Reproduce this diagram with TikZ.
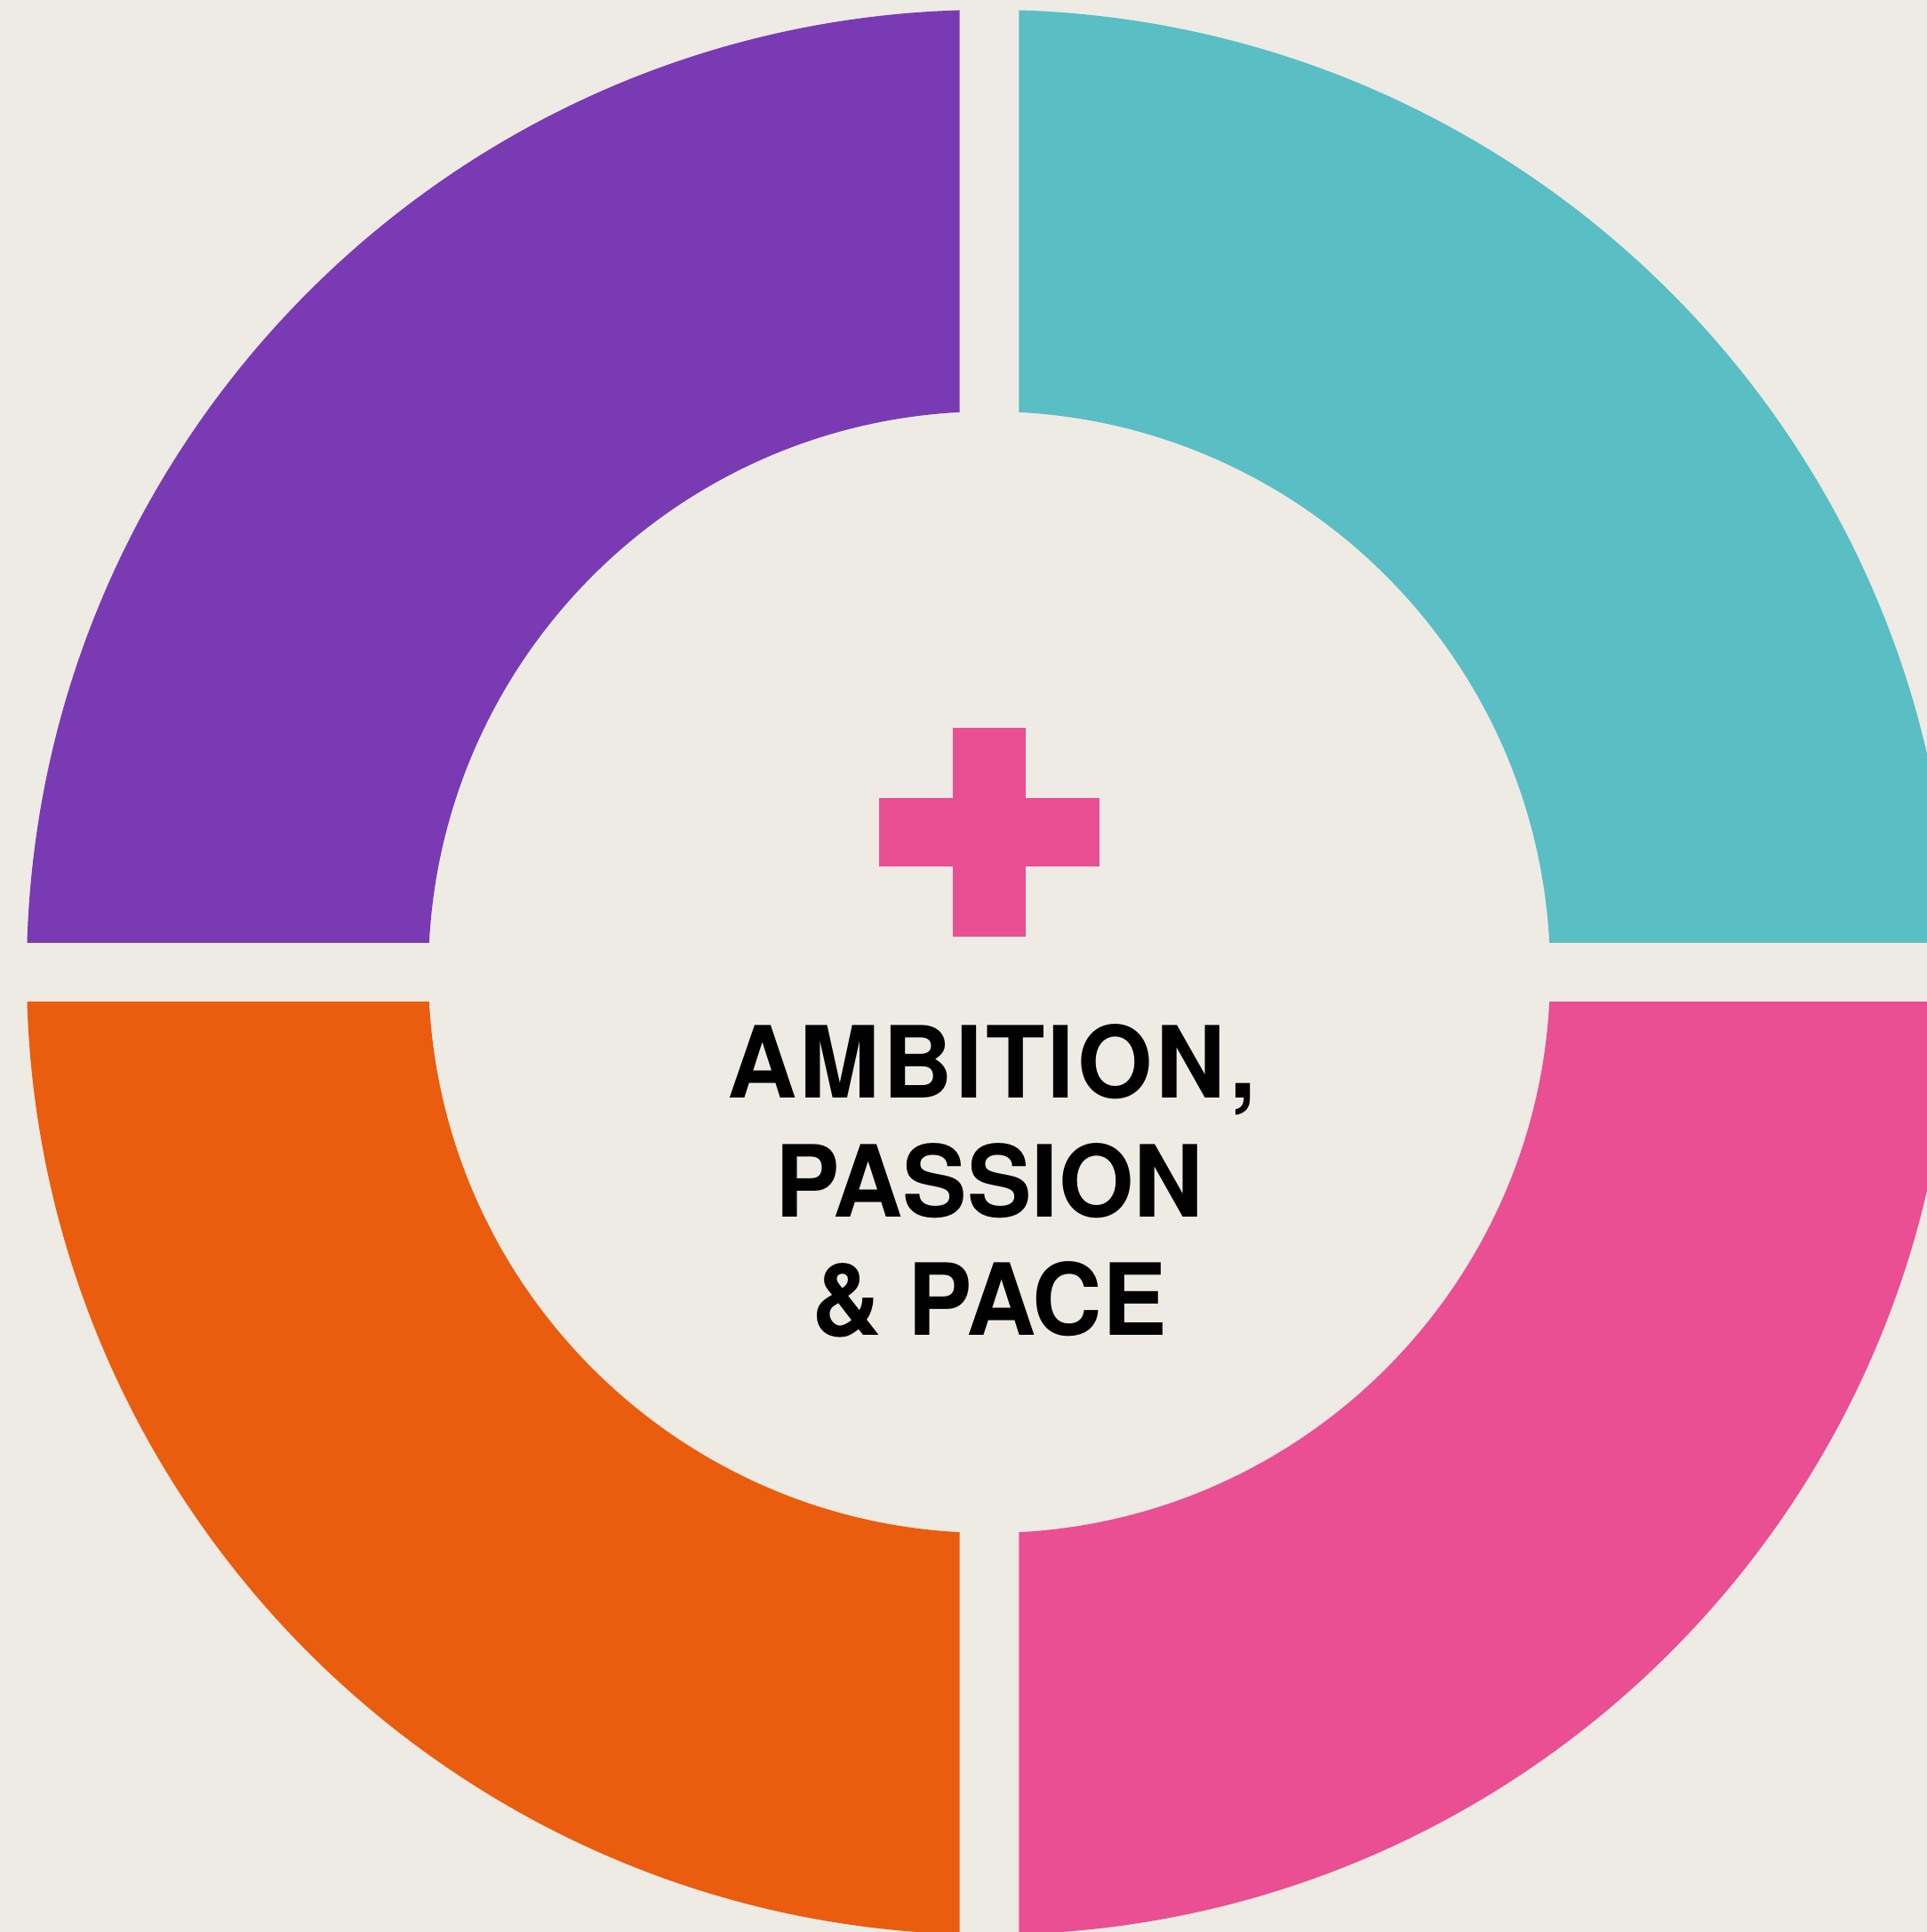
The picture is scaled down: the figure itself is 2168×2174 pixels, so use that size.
\documentclass[tikz,border=0pt]{standalone}
\usepackage{fontspec}
\setmainfont{TeX Gyre Heros}[FakeStretch=0.97]
\definecolor{bgc}{HTML}{EEEBE4}
\definecolor{qpurple}{HTML}{7A3AB4}
\definecolor{qcyan}{HTML}{5ABEC5}
\definecolor{qorange}{HTML}{EA5C0E}
\definecolor{qpink}{HTML}{E94F92}
\tikzset{
  lbl/.style={anchor=base, inner sep=0pt, font=\fontsize{56}{60}\selectfont\bfseries, text=black},
}
\begin{document}
\begin{tikzpicture}[x=0.5pt,y=0.5pt]
\useasboundingbox (0,0) rectangle (2168,2174);
\fill[bgc] (0,0) rectangle (2168,2174);
\clip (0,0) rectangle (2168,2174);
\coordinate (c) at (1113,1080);
% purple (top-left)
\begin{scope}
\clip (-20,1113.3) rectangle (1079.7,2300);
\fill[qpurple, even odd rule] (c) circle [radius=1083] (c) circle [radius=631];
\end{scope}
% cyan (top-right)
\begin{scope}
\clip (1146.3,1113.3) rectangle (2300,2300);
\fill[qcyan, even odd rule] (c) circle [radius=1083] (c) circle [radius=631];
\end{scope}
% orange (bottom-left)
\begin{scope}
\clip (-20,-200) rectangle (1079.7,1046.7);
\fill[qorange, even odd rule] (c) circle [radius=1083] (c) circle [radius=631];
\end{scope}
% pink (bottom-right)
\begin{scope}
\clip (1146.3,-200) rectangle (2300,1046.7);
\fill[qpink, even odd rule] (c) circle [radius=1083] (c) circle [radius=631];
\end{scope}
% plus sign
\fill[qpink] (1072,1119.7) rectangle (1154,1355.3);
\fill[qpink] (989,1199.3) rectangle (1237,1275.7);
% text
\node[lbl] (l1) at (1116,938) {\addfontfeature{LetterSpace=3}AMBITION,};
\node[lbl] (l2) at (1113,804.7) {PASSION};
\node[lbl] (l3) at (1113,671.3) {\&~PACE};
\end{tikzpicture}
\end{document}
